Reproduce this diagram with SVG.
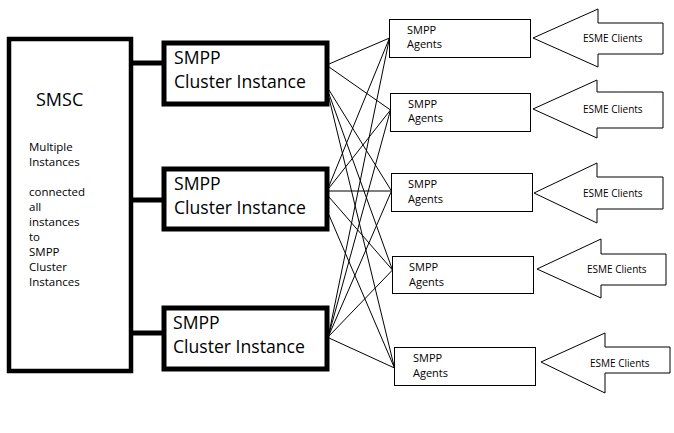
<svg xmlns="http://www.w3.org/2000/svg" width="674" height="433" viewBox="0 0 674 433">
<style>
.thick{fill:#fff;stroke:#000;stroke-width:5}
.agent{fill:#fff;stroke:#000;stroke-width:1}
.arrow{fill:#fff;stroke:#000;stroke-width:1}
.link{stroke:#000;stroke-width:1;fill:none}
.bar{stroke:#000;stroke-width:5}
text{font-family:"Open Sans","Noto Sans","Liberation Sans",sans-serif;fill:#000}
.big{font-size:17.6px}
.smsc{font-size:18px}
.note{font-size:11.5px}
.ag{font-size:11px}
.es{font-size:10px}
</style>
<rect width="674" height="433" fill="#fff"/>
<g id="connectors">
<line class="bar" x1="131" y1="63" x2="164" y2="63"/>
<line class="bar" x1="131" y1="200" x2="164" y2="200"/>
<line class="bar" x1="131" y1="333" x2="164" y2="333"/>
<line class="link" x1="329" y1="64" x2="389.5" y2="38"/>
<line class="link" x1="329" y1="67" x2="390.5" y2="110"/>
<line class="link" x1="329" y1="90" x2="391.5" y2="191"/>
<line class="link" x1="329" y1="94" x2="392.5" y2="270"/>
<line class="link" x1="329" y1="98" x2="394.5" y2="368"/>
<line class="link" x1="329" y1="186" x2="389.5" y2="38"/>
<line class="link" x1="329" y1="188" x2="390.5" y2="110"/>
<line class="link" x1="329" y1="191" x2="391.5" y2="191"/>
<line class="link" x1="329" y1="197" x2="392.5" y2="270"/>
<line class="link" x1="329" y1="215" x2="394.5" y2="368"/>
<line class="link" x1="329" y1="333" x2="389.5" y2="38"/>
<line class="link" x1="329" y1="334" x2="390.5" y2="110"/>
<line class="link" x1="329" y1="335" x2="391.5" y2="191"/>
<line class="link" x1="329" y1="336" x2="392.5" y2="270"/>
<line class="link" x1="329" y1="338" x2="394.5" y2="368"/>
</g>
<g id="smsc">
<rect x="9" y="39" width="122" height="332" fill="#fff" stroke="#000" stroke-width="4.5"/>
<text class="smsc" x="36" y="106">SMSC</text>
<text class="note" x="29" y="151">Multiple</text>
<text class="note" x="29" y="166">Instances</text>
<text class="note" x="29" y="196">connected</text>
<text class="note" x="29" y="211">all</text>
<text class="note" x="29" y="226">instances</text>
<text class="note" x="29" y="241">to</text>
<text class="note" x="29" y="256">SMPP</text>
<text class="note" x="29" y="271">Cluster</text>
<text class="note" x="29" y="286">Instances</text>
</g>
<g id="cluster1">
<rect class="thick" x="164" y="43" width="163" height="61"/>
<text class="big" x="174" y="64">SMPP</text>
<text class="big" x="174" y="88">Cluster Instance</text>
</g>
<g id="cluster2">
<rect class="thick" x="164" y="169" width="163" height="60"/>
<text class="big" x="174" y="190">SMPP</text>
<text class="big" x="174" y="214">Cluster Instance</text>
</g>
<g id="cluster3">
<rect class="thick" x="164" y="308" width="163" height="61"/>
<text class="big" x="173" y="329">SMPP</text>
<text class="big" x="173" y="353">Cluster Instance</text>
</g>
<g id="agent1">
<rect class="agent" x="389.5" y="19.5" width="141" height="38"/>
<text class="ag" x="407" y="34">SMPP</text>
<text class="ag" x="407" y="48">Agents</text>
</g>
<g id="agent2">
<rect class="agent" x="390.5" y="93.5" width="140" height="38"/>
<text class="ag" x="408" y="108">SMPP</text>
<text class="ag" x="408" y="122">Agents</text>
</g>
<g id="agent3">
<rect class="agent" x="391.5" y="173.5" width="141" height="38"/>
<text class="ag" x="408" y="188">SMPP</text>
<text class="ag" x="408" y="203">Agents</text>
</g>
<g id="agent4">
<rect class="agent" x="392.5" y="256.5" width="141" height="37"/>
<text class="ag" x="409" y="271">SMPP</text>
<text class="ag" x="409" y="286">Agents</text>
</g>
<g id="agent5">
<rect class="agent" x="394.5" y="347.5" width="141" height="38"/>
<text class="ag" x="413" y="362">SMPP</text>
<text class="ag" x="413" y="377">Agents</text>
</g>
<g id="esme1">
<polygon class="arrow" points="533,38 598,9 598,23 663,23 663,54 598,54 598,67"/>
<text class="es" x="583" y="42">ESME Clients</text>
</g>
<g id="esme2">
<polygon class="arrow" points="533,109 597,80 597,92 663,92 663,128 597,128 597,138"/>
<text class="es" x="583" y="113">ESME Clients</text>
</g>
<g id="esme3">
<polygon class="arrow" points="534,193 597,163 597,177 663,177 663,209 597,209 597,223"/>
<text class="es" x="583" y="197">ESME Clients</text>
</g>
<g id="esme4">
<polygon class="arrow" points="537,269 601,239 601,254 666,254 666,285 601,285 601,298"/>
<text class="es" x="587" y="273">ESME Clients</text>
</g>
<g id="esme5">
<polygon class="arrow" points="541,362 605,333 605,347 670,347 670,373 605,373 605,393"/>
<text class="es" x="590" y="367">ESME Clients</text>
</g>
</svg>
